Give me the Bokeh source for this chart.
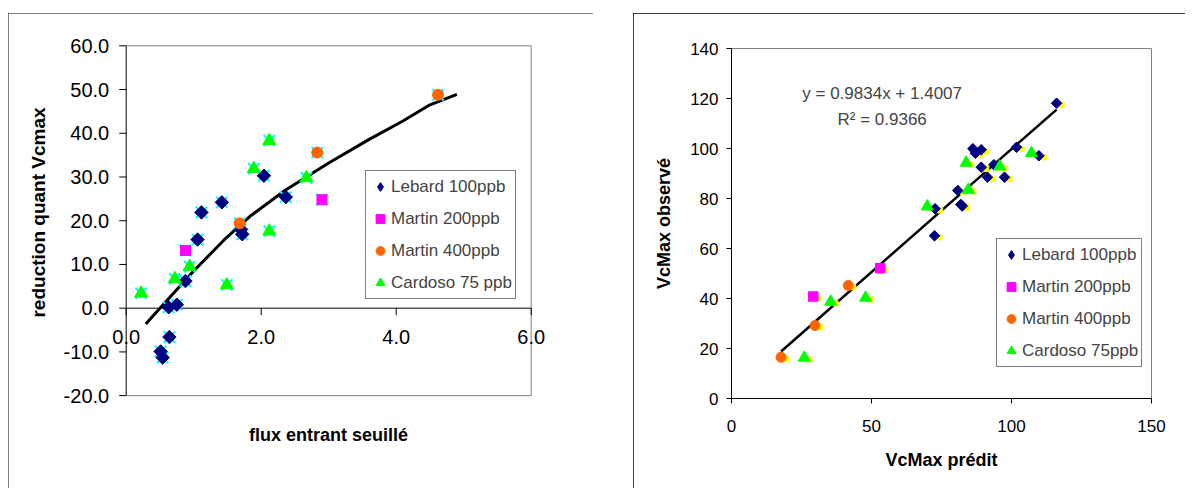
import numpy as np
from bokeh.plotting import figure
from bokeh.models import (FixedTicker, Legend, LegendItem, Label, Range1d)
from bokeh.core.properties import value
from bokeh.embed import file_html
from bokeh.resources import INLINE
from bokeh.transform import dodge

FONT = "Liberation Sans"

# ---------------- Left chart data ----------------
lebard_flux = [1.115, 1.057, 1.417, 2.04, 2.365, 1.70, 1.72, 0.878, 0.63, 0.75, 0.64, 0.51, 0.54]
lebard_red = [21.9, 15.7, 24.2, 30.3, 25.4, 18.0, 16.9, 6.2, 0.2, 0.8, -6.6, -9.9, -11.3]
martin200_flux = [0.878, 2.90]
martin200_red = [13.2, 24.8]
martin400_flux = [1.68, 2.83, 4.62]
martin400_red = [19.4, 35.6, 48.8]
cardoso_flux = [0.22, 0.72, 0.94, 1.49, 1.89, 2.12, 2.12, 2.67]
cardoso_red = [3.4, 6.7, 9.5, 5.3, 31.9, 38.3, 17.6, 29.8]
trend_flux = [0.29, 0.6, 1.0, 1.45, 1.85, 2.35, 3.0, 3.6, 4.1, 4.5, 4.9]
trend_red = [-3.6, 1.7, 8.5, 15.6, 21.2, 26.9, 33.2, 38.6, 42.8, 46.5, 48.9]
left_xticks = [0, 2, 4, 6]
left_yticks = [-20, -10, 0, 10, 20, 30, 40, 50, 60]
left_labels = ["Lebard 100ppb", "Martin 200ppb", "Martin 400ppb", "Cardoso 75 ppb"]
left_xtitle = "flux entrant seuillé"
left_ytitle = "reduction quant Vcmax"

# ---------------- Right chart data ----------------
lebard_pred = [72.5, 72.7, 81.9, 82.4, 80.8, 89.2, 91.4, 97.5, 93.7, 86.2, 89.2, 87.1, 101.8, 109.8, 116.1]
lebard_obs = [65.1, 75.9, 77.6, 77.0, 83.2, 92.5, 88.5, 88.5, 93.5, 99.9, 99.5, 98.1, 100.5, 97.1, 118.1]
martin200_pred = [29.2, 53.1]
martin200_obs = [40.8, 52.1]
martin400_pred = [17.7, 29.8, 41.7]
martin400_obs = [16.5, 29.2, 45.2]
cardoso_pred = [26.0, 35.4, 47.9, 69.9, 84.6, 83.8, 95.8, 107.1]
cardoso_obs = [16.3, 38.7, 40.3, 76.8, 83.5, 94.3, 92.8, 98.1]
slope = 0.9834
intercept = 1.4007
r2 = 0.9366
right_xticks = [0, 50, 100, 150]
right_yticks = [0, 20, 40, 60, 80, 100, 120, 140]
right_labels = ["Lebard 100ppb", "Martin 200ppb", "Martin 400ppb", "Cardoso 75ppb"]

COLORS = ["#000080", "#FF00FF", "#FF6600", "#00FF00"]
FRAME_STYLE = {"outline": "1px solid black", "outline-offset": "-1px", "position": "absolute"}


def style_axis(ax, tick_size, tick_out, label_standoff):
    ax.major_label_text_font = FONT
    ax.major_label_text_font_size = tick_size
    ax.major_label_text_color = "black"
    ax.major_tick_out = tick_out
    ax.major_tick_in = 0
    ax.minor_tick_line_color = None
    ax.major_tick_line_color = "black"
    ax.axis_line_color = "black"
    ax.major_label_standoff = label_standoff
    ax.axis_label_text_font = FONT
    ax.axis_label_text_font_style = "bold"
    ax.axis_label_text_font_size = "18px"
    ax.axis_label_text_color = "black"


def make_legend(items, loc):
    return Legend(items=items, location=loc, label_text_font=FONT, label_text_font_size="17px",
                  glyph_width=22, glyph_height=25, label_height=25, spacing=7, padding=3,
                  label_standoff=0, border_line_color="black", border_line_width=1,
                  background_fill_color="white", background_fill_alpha=1.0, margin=0)


# ================= Left figure =================
# The x axis of this chart crosses at y = 0 and its end labels overhang the plot
# area, so the frame covers the whole canvas and the axes are drawn on the scales.
W1, H1 = 585, 475
PXX, PXY = 67.5, 4.373            # pixels per data unit
PA_LEFT, PA_TOP = 117.7, 32.3     # plot-area corner inside the canvas (px)
X_MIN, X_MAX, Y_MIN, Y_MAX = 0, 6, -20, 60
x_lo1 = X_MIN - PA_LEFT / PXX
x_hi1 = x_lo1 + W1 / PXX
y_hi1 = Y_MAX + PA_TOP / PXY
y_lo1 = y_hi1 - H1 / PXY


def cx(px):
    return x_lo1 + px / PXX


def cy(py):
    return y_hi1 - py / PXY


p1 = figure(width=W1, height=H1, x_range=Range1d(x_lo1, x_hi1), y_range=Range1d(y_lo1, y_hi1),
            output_backend="svg", toolbar_location=None,
            x_axis_location=None, y_axis_location=None, title=None,
            min_border=0, min_border_left=0, min_border_right=0, min_border_top=0,
            min_border_bottom=0)
p1.styles = {**FRAME_STYLE, "left": "8px", "top": "13px"}
p1.grid.visible = False
p1.outline_line_color = None
p1.background_fill_color = "white"
p1.border_fill_color = "white"

# grey plot-area border (top, right, bottom)
p1.line([X_MIN, X_MAX, X_MAX, X_MIN], [Y_MAX, Y_MAX, Y_MIN, Y_MIN],
        line_color="#808080", line_width=1)

TICK = 7
# vertical axis at x = 0
p1.line([0, 0], [Y_MIN, Y_MAX], line_color="black", line_width=1)
p1.segment(x0=[0] * len(left_yticks), y0=left_yticks,
           x1=[-TICK / PXX] * len(left_yticks), y1=left_yticks, line_color="black", line_width=1)
p1.text(x=[-(TICK + 10) / PXX] * len(left_yticks), y=left_yticks,
        text=[f"{t:.1f}" for t in left_yticks], text_align="right", text_baseline="middle",
        text_font=value(FONT), text_font_size=value("20px"), text_color="black")
# horizontal axis at y = 0
p1.line([X_MIN, X_MAX], [0, 0], line_color="black", line_width=1)
p1.segment(x0=left_xticks, y0=[0] * len(left_xticks),
           x1=left_xticks, y1=[-TICK / PXY] * len(left_xticks), line_color="black", line_width=1)
p1.text(x=left_xticks, y=[-(TICK + 15) / PXY] * len(left_xticks),
        text=[f"{t:.1f}" for t in left_xticks], text_align="center", text_baseline="top",
        text_font=value(FONT), text_font_size=value("20px"), text_color="black")

p1.add_layout(Label(x=cx(30), y=cy(199), text=left_ytitle, angle=np.pi / 2,
                    text_align="center", text_baseline="middle", text_font=FONT,
                    text_font_size="19px", text_font_style="bold", text_color="black"))
p1.add_layout(Label(x=cx(320), y=cy(421), text=left_xtitle,
                    text_align="center", text_baseline="middle", text_font=FONT,
                    text_font_size="18px", text_font_style="bold", text_color="black"))

p1.line(trend_flux, trend_red, line_color="black", line_width=3)

all_flux = lebard_flux + martin200_flux + martin400_flux + cardoso_flux
all_red = lebard_red + martin200_red + martin400_red + cardoso_red
p1.scatter(all_flux, all_red, marker="x", size=16, line_color="#00FFFF", line_width=2)

# diamond glyph (hidden under the rotated squares) that gives the legend its diamond
d_l1 = p1.scatter(lebard_flux, lebard_red, marker="diamond", size=12,
                  fill_color=COLORS[0], line_color=COLORS[0])
r_l1 = p1.scatter(lebard_flux, lebard_red, marker="square", angle=np.pi / 4, size=9.5,
                  fill_color=COLORS[0], line_color=COLORS[0])
r_l2 = p1.scatter(martin200_flux, martin200_red, marker="square", size=10,
                  fill_color=COLORS[1], line_color=COLORS[1])
r_l3 = p1.scatter(martin400_flux, martin400_red, marker="circle", size=11,
                  fill_color=COLORS[2], line_color=COLORS[2])
r_l4 = p1.scatter(cardoso_flux, cardoso_red, marker="triangle", size=13,
                  fill_color=COLORS[3], line_color=COLORS[3])

p1.add_layout(make_legend([LegendItem(label=lab, renderers=[r]) for lab, r in
                           zip(left_labels, [d_l1, r_l2, r_l3, r_l4])], (357, 189)))

# ================= Right figure =================
p2 = figure(width=552, height=475, x_range=Range1d(0, 150), y_range=Range1d(0, 140),
            output_backend="svg", toolbar_location=None,
            min_border_left=98, min_border_right=34, min_border_top=35, min_border_bottom=90)
p2.styles = {**FRAME_STYLE, "left": "633px", "top": "13px"}
p2.grid.visible = False
p2.outline_line_color = "#808080"
p2.background_fill_color = "white"
p2.border_fill_color = "white"

xb = p2.xaxis[0]
xb.ticker = FixedTicker(ticks=right_xticks)
style_axis(xb, "17px", 5, 16)
xb.axis_label = "VcMax prédit"
xb.axis_label_standoff = 15

yb = p2.yaxis[0]
yb.ticker = FixedTicker(ticks=right_yticks)
style_axis(yb, "17px", 5, 8)
yb.axis_label = "VcMax observé"
yb.axis_label_standoff = 13

all_pred = lebard_pred + martin200_pred + martin400_pred + cardoso_pred
all_obs = lebard_obs + martin200_obs + martin400_obs + cardoso_obs
x_lo, x_hi = min(all_pred), max(all_pred)
p2.line([x_lo, x_hi], [slope * x_lo + intercept, slope * x_hi + intercept],
        line_color="black", line_width=2.5)

p2.scatter(x=dodge("x", 1.8, range=p2.x_range), y=dodge("y", -0.7, range=p2.y_range),
           source={"x": all_pred, "y": all_obs}, marker="square", size=5,
           fill_color="#FFFF00", line_color="#FFFF00")

d_r1 = p2.scatter(lebard_pred, lebard_obs, marker="diamond", size=9.5,
                  fill_color=COLORS[0], line_color=COLORS[0])
r_r1 = p2.scatter(lebard_pred, lebard_obs, marker="square", angle=np.pi / 4, size=7.5,
                  fill_color=COLORS[0], line_color=COLORS[0])
r_r2 = p2.scatter(martin200_pred, martin200_obs, marker="square", size=9.5,
                  fill_color=COLORS[1], line_color=COLORS[1])
r_r3 = p2.scatter(martin400_pred, martin400_obs, marker="circle", size=10,
                  fill_color=COLORS[2], line_color=COLORS[2])
r_r4 = p2.scatter(cardoso_pred, cardoso_obs, marker="triangle", size=12,
                  fill_color=COLORS[3], line_color=COLORS[3])

p2.add_layout(Label(x=53.8, y=121.9, text=f"y = {slope}x + {intercept}", text_align="center",
                    text_baseline="middle", text_font=FONT, text_font_size="17px"))
p2.add_layout(Label(x=53.8, y=111.5, text=f"R² = {r2}", text_align="center",
                    text_baseline="middle", text_font=FONT, text_font_size="17px"))

p2.add_layout(make_legend([LegendItem(label=lab, renderers=[r]) for lab, r in
                           zip(right_labels, [d_r1, r_r2, r_r3, r_r4])], (265, 31)))

with open("out.html", "w") as f:
    f.write(file_html([p1, p2], INLINE))
